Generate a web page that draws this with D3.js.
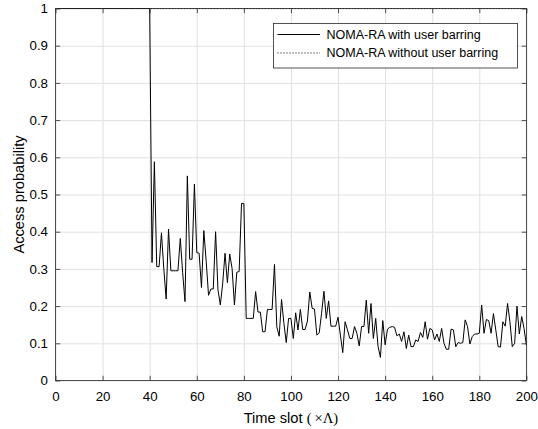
<!DOCTYPE html>
<html><head><meta charset="utf-8">
<script src="https://cdn.jsdelivr.net/npm/d3@7/dist/d3.min.js"></script>
<style>body{margin:0;background:#fff}svg{display:block}text{font-family:"Liberation Sans",Arial,Helvetica,sans-serif}</style>
</head><body>
<svg id="chart" width="538" height="429"></svg>
<script>
// ---- data ----
const firstSlot = 1;
const withBarring = [
  1,1,1,1,1,1,1,1,1,1, 1,1,1,1,1,1,1,1,1,1, 1,1,1,1,1,1,1,1,1,1, 1,1,1,1,1,1,1,1,1,1,
  0.317,0.588,0.306,0.306,0.397,0.30,0.219,0.407,0.295,0.295,
  0.295,0.295,0.382,0.29,0.212,0.55,0.326,0.326,0.528,0.344,
  0.342,0.25,0.403,0.32,0.229,0.246,0.246,0.40,0.244,0.203,
  0.26,0.342,0.263,0.34,0.301,0.203,0.291,0.293,0.476,0.476,
  0.167,0.167,0.167,0.167,0.239,0.184,0.184,0.131,0.131,0.191,
  0.191,0.191,0.312,0.144,0.119,0.218,0.154,0.102,0.167,0.167,
  0.113,0.182,0.136,0.191,0.137,0.137,0.16,0.238,0.194,0.192,
  0.122,0.128,0.18,0.24,0.167,0.214,0.146,0.146,0.146,0.17,
  0.122,0.075,0.158,0.136,0.113,0.113,0.145,0.127,0.093,0.145,
  0.145,0.216,0.127,0.207,0.113,0.167,0.091,0.062,0.161,0.096,
  0.138,0.143,0.145,0.143,0.12,0.125,0.105,0.131,0.086,0.122,
  0.091,0.091,0.109,0.105,0.129,0.116,0.158,0.111,0.14,0.136,
  0.109,0.125,0.105,0.14,0.10,0.084,0.084,0.138,0.136,0.091,
  0.102,0.10,0.102,0.163,0.145,0.098,0.118,0.125,0.125,0.127,
  0.203,0.127,0.164,0.161,0.127,0.18,0.136,0.091,0.09,0.158,
  0.146,0.207,0.158,0.091,0.1,0.2,0.125,0.172,0.14,0.095
];
const withoutBarring = [
  1,1,1,1,1,1,1,1,1,1, 1,1,1,1,1,1,1,1,1,1, 1,1,1,1,1,1,1,1,1,1, 1,1,1,1,1,1,1,1,1,1,
  1,1,1,1,1,1,1,1,1,1, 1,1,1,1,1,1,1,1,1,1, 1,1,1,1,1,1,1,1,1,1, 1,1,1,1,1,1,1,1,1,1,
  1,1,1,1,1,1,1,1,1,1, 1,1,1,1,1,1,1,1,1,1, 1,1,1,1,1,1,1,1,1,1, 1,1,1,1,1,1,1,1,1,1,
  1,1,1,1,1,1,1,1,1,1, 1,1,1,1,1,1,1,1,1,1, 1,1,1,1,1,1,1,1,1,1, 1,1,1,1,1,1,1,1,1,1,
  1,1,1,1,1,1,1,1,1,1, 1,1,1,1,1,1,1,1,1,1, 1,1,1,1,1,1,1,1,1,1, 1,1,1,1,1,1,1,1,1,1
];
const seriesNames = ["NOMA-RA with user barring", "NOMA-RA without user barring"];
const xTicks = [0,20,40,60,80,100,120,140,160,180,200];
const yTicks = [0,0.1,0.2,0.3,0.4,0.5,0.6,0.7,0.8,0.9,1];
const yTickLabels = ["0","0.1","0.2","0.3","0.4","0.5","0.6","0.7","0.8","0.9","1"];
const xLabel = "Time slot ";
const xLabelMath = "(\u2009×Λ)";
const yLabel = "Access probability";

// ---- layout ----
const svg = d3.select("#chart");
const L = 55.5, R = 526.4, T = 8.5, B = 380.5;
const W = R - L, H = B - T;
const x = d3.scaleLinear().domain([0,200]).range([L,R]);
const y = d3.scaleLinear().domain([0,1]).range([B,T]);
const axisColor = "#262626";
const sans = '"Liberation Sans",Arial,Helvetica,sans-serif';

// grid
svg.append("g").attr("transform",`translate(0,${B})`)
  .call(d3.axisBottom(x).tickValues(xTicks).tickSize(-H).tickFormat(""))
  .call(g=>g.select(".domain").remove())
  .call(g=>g.selectAll("line").attr("stroke","#e1e1e1").attr("stroke-width",1));
svg.append("g").attr("transform",`translate(${L},0)`)
  .call(d3.axisLeft(y).tickValues(yTicks).tickSize(-W).tickFormat(""))
  .call(g=>g.select(".domain").remove())
  .call(g=>g.selectAll("line").attr("stroke","#e1e1e1").attr("stroke-width",1));

// data lines
const pts = arr => arr.map((v,i)=>[firstSlot+i, v]);
const line = d3.line().x(d=>x(d[0])).y(d=>y(d[1]));
const plot = svg.append("g");
plot.append("path").attr("d", line(pts(withoutBarring)))
  .attr("fill","none").attr("stroke","#000").attr("stroke-width",1)
  .attr("stroke-dasharray","1,2");
plot.append("path").attr("d", line(pts(withBarring)))
  .attr("fill","none").attr("stroke","#000").attr("stroke-width",1)
  .attr("stroke-linejoin","miter");

// axes (ticks inward, all sides)
const tk = 4.7;
const styleAxis = g => {
  g.select(".domain").remove();
  g.selectAll("line").attr("stroke",axisColor).attr("stroke-width",0.8);
  g.selectAll("text").attr("fill","#000").style("font-size","13.3px").style("font-family",sans);
};
svg.append("g").attr("transform",`translate(0,${B})`)
  .call(d3.axisBottom(x).tickValues(xTicks).tickSizeInner(-tk).tickSizeOuter(0).tickPadding(11.5).tickFormat(d3.format("d")))
  .call(styleAxis);
svg.append("g").attr("transform",`translate(0,${T})`)
  .call(d3.axisTop(x).tickValues(xTicks).tickSizeInner(-tk).tickSizeOuter(0).tickFormat(""))
  .call(styleAxis);
svg.append("g").attr("transform",`translate(${L},0)`)
  .call(d3.axisLeft(y).tickValues(yTicks).tickSizeInner(-tk).tickSizeOuter(0).tickPadding(7.5)
    .tickFormat((d,i)=>yTickLabels[i]))
  .call(styleAxis);
svg.append("g").attr("transform",`translate(${R},0)`)
  .call(d3.axisRight(y).tickValues(yTicks).tickSizeInner(-tk).tickSizeOuter(0).tickFormat(""))
  .call(styleAxis);

// box
svg.append("rect").attr("x",L).attr("y",T).attr("width",W).attr("height",H)
  .attr("fill","none").attr("stroke",axisColor).attr("stroke-width",0.8);

// axis labels
const xl = svg.append("text").attr("x",(L+R)/2).attr("y",423)
  .attr("text-anchor","middle").style("font-size","14.67px").attr("fill","#000");
xl.append("tspan").text(xLabel);
xl.append("tspan").style("font-family",'"Liberation Serif","Times New Roman",serif').text(xLabelMath);
svg.append("text").attr("transform",`translate(23.5,${(T+B)/2}) rotate(-90)`)
  .attr("text-anchor","middle").style("font-size","14.67px").attr("fill","#000").text(yLabel);

// legend
const lg = svg.append("g");
lg.append("rect").attr("x",273.5).attr("y",23.5).attr("width",244).attr("height",44.5)
  .attr("fill","#fff").attr("stroke",axisColor).attr("stroke-width",0.8);
const rows = [{dash:null},{dash:"1,2"}];
rows.forEach((r,i)=>{
  const yy = 34.5 + i*18.5;
  const ln = lg.append("line").attr("x1",277.5).attr("x2",320).attr("y1",yy).attr("y2",yy)
    .attr("stroke","#000").attr("stroke-width",1);
  if (r.dash) ln.attr("stroke-dasharray",r.dash);
  lg.append("text").attr("x",326.5).attr("y",yy).attr("dy","0.35em")
    .style("font-size","12.5px").attr("fill","#000").text(seriesNames[i]);
});
</script>
</body></html>
